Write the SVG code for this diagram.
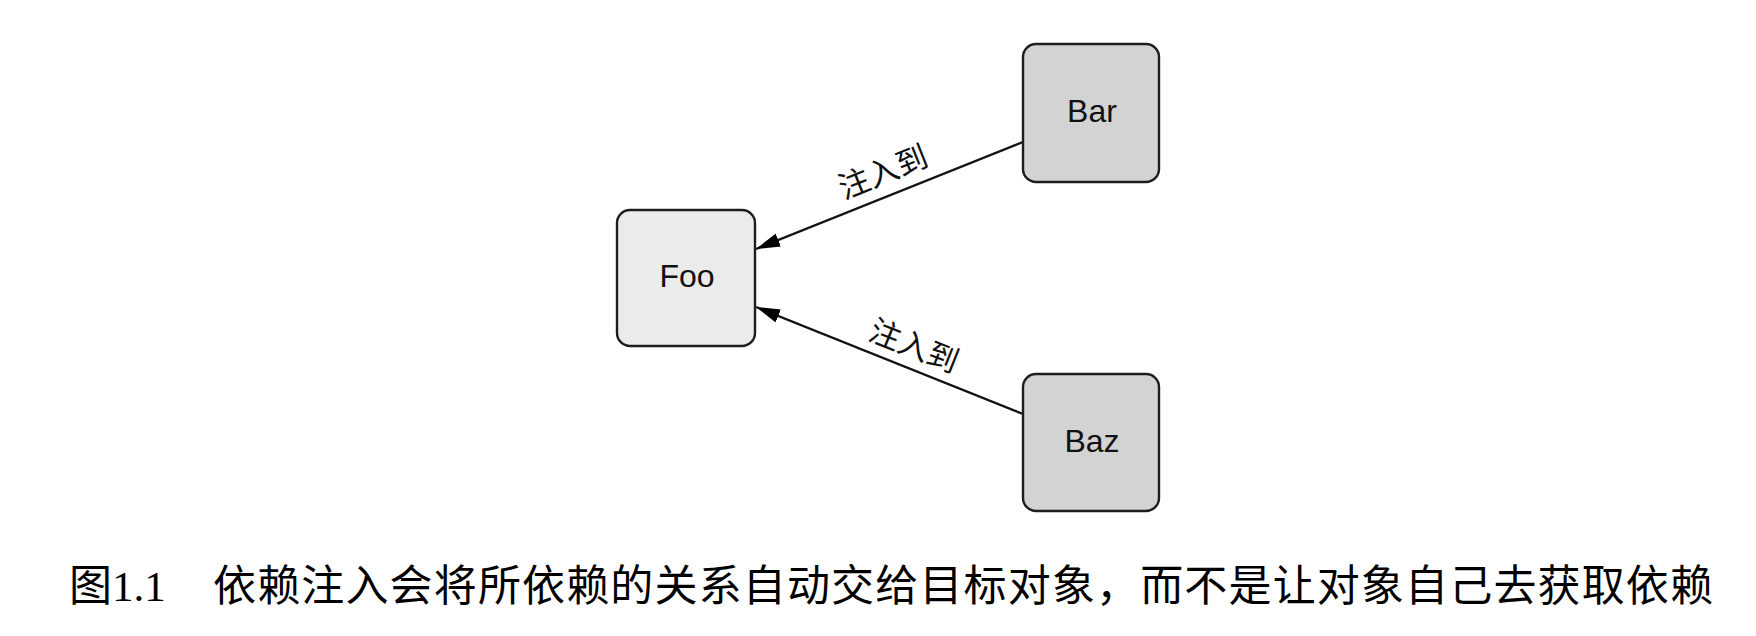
<svg xmlns="http://www.w3.org/2000/svg" width="1756" height="636" viewBox="0 0 1756 636">
<style>
.box{stroke:#1e1e1e;stroke-width:2.4}
.lbl{font-family:"Liberation Sans",Arial,sans-serif;font-size:32px;fill:#111;text-anchor:middle}
.edge{stroke:#111;stroke-width:2.3;fill:none}
.elbl{font-family:"Noto Sans CJK SC","Noto Sans CJK JP",serif;font-size:31px;fill:#111;text-anchor:middle}
.cap{font-family:"Liberation Serif","Noto Sans CJK SC",serif;font-size:43px;fill:#000}
</style>
<defs>
<marker id="arr" viewBox="0 0 24 14" refX="24" refY="7" markerWidth="24" markerHeight="14" markerUnits="userSpaceOnUse" orient="auto">
<path d="M0,0 L24,7 L0,14 z" fill="#000"/>
</marker>
</defs>
<rect width="1756" height="636" fill="#fff"/>
<g id="connectors">
<line class="edge" x1="1023" y1="142" x2="756" y2="249" marker-end="url(#arr)"/>
<line class="edge" x1="1023" y1="414" x2="756" y2="307" marker-end="url(#arr)"/>
<text class="elbl" transform="rotate(-21.8 883 172)" x="883" y="183">注入到</text>
<text class="elbl" transform="rotate(21.8 914 346)" x="914" y="357">注入到</text>
</g>
<g id="foo">
<rect class="box" x="617" y="210" width="138" height="136" rx="13" fill="#ebebeb"/>
<text class="lbl" x="687" y="287">Foo</text>
</g>
<g id="bar">
<rect class="box" x="1023" y="44" width="136" height="138" rx="13" fill="#d3d3d3"/>
<text class="lbl" x="1092" y="122">Bar</text>
</g>
<g id="baz">
<rect class="box" x="1023" y="374" width="136" height="137" rx="13" fill="#d3d3d3"/>
<text class="lbl" x="1092" y="452">Baz</text>
</g>
<g id="caption">
<text class="cap" x="69" y="601">图1.1</text>
<text class="cap" x="213" y="601" textLength="1500" lengthAdjust="spacing">依赖注入会将所依赖的关系自动交给目标对象，而不是让对象自己去获取依赖</text>
</g>
</svg>
